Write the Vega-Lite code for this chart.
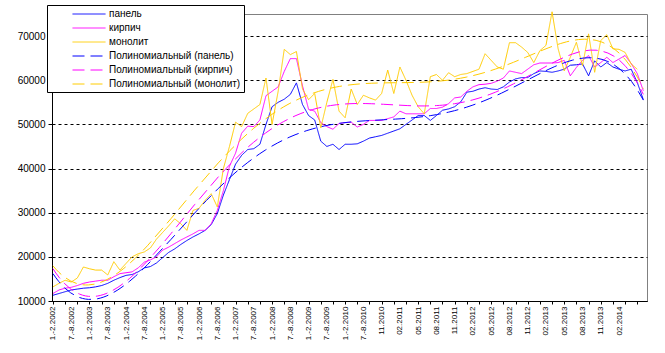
{
  "$schema": "https://vega.github.io/schema/vega-lite/v6.json",
  "width": 595,
  "height": 287,
  "autosize": {"type": "none"},
  "padding": {"left": 52, "top": 14, "right": 18, "bottom": 52},
  "background": "white",
  "config": {
    "view": {"stroke": "#808080", "strokeWidth": 1},
    "font": "Liberation Sans",
    "axis": {"domainColor": "black", "tickColor": "black", "labelColor": "black", "labelFont": "Liberation Sans", "title": null}
  },
  "datasets": {
    "d": [
      {"i":0,"панель":11300,"кирпич":11700,"монолит":13200},
      {"i":1,"панель":11700,"кирпич":12500,"монолит":14000},
      {"i":2,"панель":12100,"кирпич":12900,"монолит":14700},
      {"i":3,"панель":12500,"кирпич":13100,"монолит":14300},
      {"i":4,"панель":12700,"кирпич":13500,"монолит":15200},
      {"i":5,"панель":12900,"кирпич":14000,"монолит":17700},
      {"i":6,"панель":13000,"кирпич":14300,"монолит":17300},
      {"i":7,"панель":13200,"кирпич":14500,"монолит":17000},
      {"i":8,"панель":13500,"кирпич":14700,"монолит":17000},
      {"i":9,"панель":14000,"кирпич":14700,"монолит":15900},
      {"i":10,"панель":14700,"кирпич":15500,"монолит":18900},
      {"i":11,"панель":15300,"кирпич":16200,"монолит":17000},
      {"i":12,"панель":15800,"кирпич":16400,"монолит":18500},
      {"i":13,"панель":16000,"кирпич":16600,"монолит":20000},
      {"i":14,"панель":16600,"кирпич":17500,"монолит":20700},
      {"i":15,"панель":17500,"кирпич":18800,"монолит":21100},
      {"i":16,"панель":17800,"кирпич":19300,"монолит":22000},
      {"i":17,"панель":18600,"кирпич":20000,"монолит":24000},
      {"i":18,"панель":19800,"кирпич":21500,"монолит":25500},
      {"i":19,"панель":21000,"кирпич":22200,"монолит":27000},
      {"i":20,"панель":21800,"кирпич":23000,"монолит":28600},
      {"i":21,"панель":22800,"кирпич":23800,"монолит":27500},
      {"i":22,"панель":23700,"кирпич":24500,"монолит":26000},
      {"i":23,"панель":24500,"кирпич":25200,"монолит":30500},
      {"i":24,"панель":25200,"кирпич":26000,"монолит":31000},
      {"i":25,"панель":26000,"кирпич":26000,"монолит":32800},
      {"i":26,"панель":27300,"кирпич":27500,"монолит":34300},
      {"i":27,"панель":29800,"кирпич":30500,"монолит":31300},
      {"i":28,"панель":34000,"кирпич":35000,"монолит":40000},
      {"i":29,"панель":37500,"кирпич":40500,"монолит":45000},
      {"i":30,"панель":41000,"кирпич":43500,"монолит":50500},
      {"i":31,"панель":43000,"кирпич":48000,"монолит":49500},
      {"i":32,"панель":44300,"кирпич":49600,"монолит":52500},
      {"i":33,"панель":44500,"кирпич":49500,"монолит":53500},
      {"i":34,"панель":45500,"кирпич":51000,"монолит":54500},
      {"i":35,"панель":50000,"кирпич":56500,"монолит":60500},
      {"i":36,"панель":54000,"кирпич":57500,"монолит":50000},
      {"i":37,"панель":55000,"кирпич":58500,"монолит":57500},
      {"i":38,"панель":55700,"кирпич":62000,"монолит":67000},
      {"i":39,"панель":56800,"кирпич":64900,"монолит":65800},
      {"i":40,"панель":59400,"кирпич":64900,"монолит":66500},
      {"i":41,"панель":54500,"кирпич":58700,"монолит":58000},
      {"i":42,"панель":52000,"кирпич":53400,"монолит":55600},
      {"i":43,"панель":51000,"кирпич":53000,"монолит":57000},
      {"i":44,"панель":46200,"кирпич":50400,"монолит":49200},
      {"i":45,"панель":45000,"кирпич":49500,"монолит":55000},
      {"i":46,"панель":45500,"кирпич":48900,"монолит":60200},
      {"i":47,"панель":44300,"кирпич":50200,"монолит":53000},
      {"i":48,"панель":45500,"кирпич":50400,"монолит":51500},
      {"i":49,"панель":45500,"кирпич":50500,"монолит":58000},
      {"i":50,"панель":45600,"кирпич":49400,"монолит":54500},
      {"i":51,"панель":46200,"кирпич":50000,"монолит":56600},
      {"i":52,"панель":46900,"кирпич":50900,"монолит":56000},
      {"i":53,"панель":47200,"кирпич":50900,"монолит":55500},
      {"i":54,"панель":47500,"кирпич":50900,"монолит":57000},
      {"i":55,"панель":48000,"кирпич":51300,"монолит":62300},
      {"i":56,"панель":48500,"кирпич":51700,"монолит":57000},
      {"i":57,"панель":49000,"кирпич":53000,"монолит":63000},
      {"i":58,"панель":50000,"кирпич":52400,"монолит":60000},
      {"i":59,"панель":51000,"кирпич":52400,"монолит":56600},
      {"i":60,"панель":52000,"кирпич":52400,"монолит":54000},
      {"i":61,"панель":52000,"кирпич":52400,"монолит":52400},
      {"i":62,"панель":50900,"кирпич":53600,"монолит":60800},
      {"i":63,"панель":52000,"кирпич":53600,"монолит":61300},
      {"i":64,"панель":53200,"кирпич":53900,"монолит":60000},
      {"i":65,"панель":53500,"кирпич":54700,"монолит":61700},
      {"i":66,"панель":54000,"кирпич":56000,"монолит":60800},
      {"i":67,"панель":55100,"кирпич":56200,"монолит":61300},
      {"i":68,"панель":57300,"кирпич":57500,"монолит":61500},
      {"i":69,"панель":57500,"кирпич":58500,"монолит":62000},
      {"i":70,"панель":58000,"кирпич":59000,"монолит":62500},
      {"i":71,"панель":58300,"кирпич":59100,"монолит":66000},
      {"i":72,"панель":58000,"кирпич":59300,"монолит":64500},
      {"i":73,"панель":57900,"кирпич":59800,"монолит":63000},
      {"i":74,"панель":58500,"кирпич":60500,"монолит":62500},
      {"i":75,"панель":59600,"кирпич":62100,"монолит":68500},
      {"i":76,"панель":60300,"кирпич":61800,"монолит":68500},
      {"i":77,"панель":60600,"кирпич":61500,"монолит":67500},
      {"i":78,"панель":60600,"кирпич":62500,"монолит":66300},
      {"i":79,"панель":61500,"кирпич":63500,"монолит":64000},
      {"i":80,"панель":62100,"кирпич":63900,"монолит":66700},
      {"i":81,"панель":62000,"кирпич":63900,"монолит":67900},
      {"i":82,"панель":61800,"кирпич":63900,"монолит":75500},
      {"i":83,"панель":62100,"кирпич":64000,"монолит":67100},
      {"i":84,"панель":62500,"кирпич":64500,"монолит":62100},
      {"i":85,"панель":63400,"кирпич":61000,"монолит":65200},
      {"i":86,"панель":63500,"кирпич":62900,"монолит":68600},
      {"i":87,"панель":63700,"кирпич":64500,"монолит":63300},
      {"i":88,"панель":61000,"кирпич":65600,"монолит":70500},
      {"i":89,"панель":64400,"кирпич":63000,"монолит":61800},
      {"i":90,"панель":63000,"кирпич":64000,"монолит":69000},
      {"i":91,"панель":64000,"кирпич":65200,"монолит":70300},
      {"i":92,"панель":63000,"кирпич":64000,"монолит":67100},
      {"i":93,"панель":62500,"кирпич":64800,"монолит":67000},
      {"i":94,"панель":62100,"кирпич":65600,"монолит":66300},
      {"i":95,"панель":62500,"кирпич":63800,"монолит":63700},
      {"i":96,"панель":59500,"кирпич":61500,"монолит":62500},
      {"i":97,"панель":55600,"кирпич":57600}
    ],
    "t": [
      {"name": "панель", "t": "Полиномиальный (панель)"},
      {"name": "кирпич", "t": "Полиномиальный (кирпич)"},
      {"name": "монолит", "t": "Полиномиальный (монолит)"}
    ]
  },
  "data": {"name": "d"},
  "encoding": {
    "x": {
      "field": "i", "type": "quantitative",
      "scale": {"domain": [-0.16, 97.6], "nice": false, "zero": false},
      "axis": {
        "values": [0,1,2,3,4,5,6,7,8,9,10,11,12,13,14,15,16,17,18,19,20,21,22,23,24,25,26,27,28,29,30,31,32,33,34,35,36,37,38,39,40,41,42,43,44,45,46,47,48,49,50,51,52,53,54,55,56,57,58,59,60,61,62,63,64,65,66,67,68,69,70,71,72,73,74,75,76,77,78,79,80,81,82,83,84,85,86,87,88,89,90,91,92,93,94,95,96,97],
        "labelExpr": "datum.value % 3 === 0 && datum.value <= 93 ? ['1.-2.2002','7.-8.2002','1.-2.2003','7.-8.2003','1.-2.2004','7.-8.2004','1.-2.2005','7.-8.2005','1.-2.2006','7.-8.2006','1.-2.2007','7.-8.2007','1.-2.2008','7.-8.2008','1.-2.2009','7.-8.2009','1.-2.2010','7.-8.2010','11.2010','02.2011','05.2011','08.2011','11.2011','02.2012','05.2012','08.2012','11.2012','02.2013','05.2013','08.2013','11.2013','02.2014'][datum.value / 3] : ''",
        "labelAngle": 270,
        "labelFontSize": 8,
        "labelPadding": 2,
        "labelOverlap": false,
        "labelFlush": false,
        "labelBound": false,
        "tickSize": 3,
        "tickOpacity": {"condition": {"test": "datum.value % 2 === 0", "value": 1}, "value": 0},
        "grid": false
      }
    },
    "y": {
      "field": "value", "type": "quantitative",
      "scale": {"domain": [10000, 75000], "nice": false, "zero": false},
      "axis": {
        "values": [10000, 20000, 30000, 40000, 50000, 60000, 70000],
        "format": "d",
        "labelFontSize": 10,
        "tickSize": 4,
        "labelPadding": 3,
        "grid": true,
        "gridColor": "black",
        "gridDash": [3, 3],
        "gridWidth": 1
      }
    },
    "color": {
      "field": "name", "type": "nominal",
      "scale": {
        "domain": ["панель", "кирпич", "монолит", "Полиномиальный (панель)", "Полиномиальный (кирпич)", "Полиномиальный (монолит)"],
        "range": ["#0000FF", "#FF00FF", "#FFCC00", "#0000FF", "#FF00FF", "#FFCC00"]
      },
      "legend": {
        "orient": "none", "legendX": -5, "legendY": -9, "title": null,
        "fillColor": "white", "strokeColor": "black", "padding": 3,
        "labelFontSize": 10, "labelColor": "black", "labelFont": "Liberation Sans",
        "symbolType": "M-3,0H3", "symbolSize": 121, "symbolStrokeWidth": 1,
        "symbolOffset": 33, "labelOffset": 14, "rowPadding": 3
      }
    },
    "strokeDash": {
      "field": "name", "type": "nominal",
      "scale": {
        "domain": ["панель", "кирпич", "монолит", "Полиномиальный (панель)", "Полиномиальный (кирпич)", "Полиномиальный (монолит)"],
        "range": [[1, 0], [1, 0], [1, 0], [12, 6], [12, 6], [12, 6]]
      },
      "legend": {
        "orient": "none", "legendX": -5, "legendY": -9, "title": null,
        "fillColor": "white", "strokeColor": "black", "padding": 3,
        "labelFontSize": 10, "labelColor": "black", "labelFont": "Liberation Sans",
        "symbolType": "M-3,0H3", "symbolSize": 121, "symbolStrokeWidth": 1,
        "symbolOffset": 33, "labelOffset": 14, "rowPadding": 3
      }
    }
  },
  "layer": [
    {
      "transform": [{"fold": ["панель", "кирпич", "монолит"], "as": ["name", "value"]}],
      "mark": {"type": "line", "strokeWidth": 1, "clip": false}
    },
    {
      "transform": [
        {"fold": ["панель", "кирпич", "монолит"], "as": ["name", "value"]},
        {"lookup": "name", "from": {"data": {"name": "t"}, "key": "name", "fields": ["t"]}, "as": ["name"]},
        {"regression": "value", "on": "i", "groupby": ["name"], "method": "poly", "order": 6}
      ],
      "mark": {"type": "line", "strokeWidth": 1}
    }
  ]
}
